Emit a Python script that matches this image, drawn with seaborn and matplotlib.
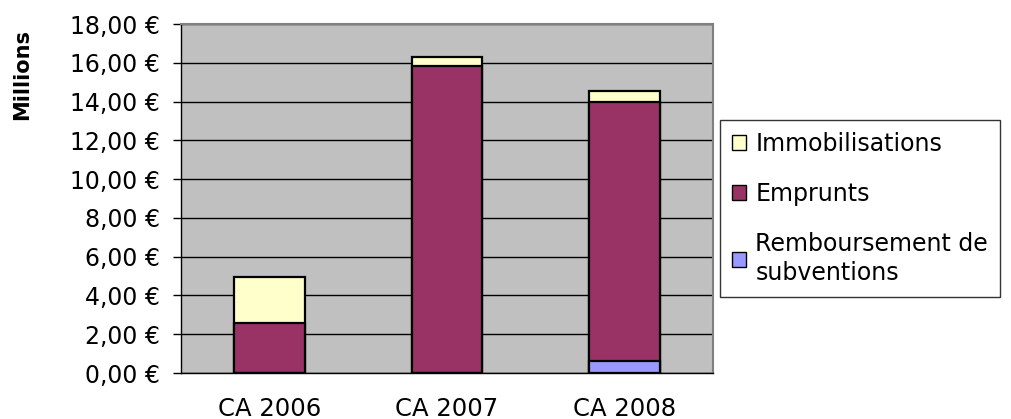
import matplotlib
matplotlib.use("Agg")
import matplotlib.pyplot as plt
import matplotlib.ticker as mticker
from matplotlib.patches import Patch
import seaborn as sns
import pandas as pd

sns.set_style("white")
plt.rcParams['font.family'] = ['DejaVu Sans']
plt.rcParams['text.color'] = 'black'
plt.rcParams['xtick.color'] = 'black'
plt.rcParams['ytick.color'] = 'black'

# donnees (millions d'euros)
annees = ["CA 2006", "CA 2007", "CA 2008"]
remboursement = [0.0, 0.0, 0.63]
emprunts = [2.56, 15.83, 13.35]
immobilisations = [2.38, 0.45, 0.55]
yticks = [0, 2, 4, 6, 8, 10, 12, 14, 16, 18]

c_immo = "#FFFFCC"
c_emp = "#993366"
c_remb = "#9999FF"

df = pd.DataFrame({"annee": annees, "remb": remboursement,
                   "emp": emprunts, "immo": immobilisations})
df["cum_emp"] = df["remb"] + df["emp"]
df["cum_immo"] = df["cum_emp"] + df["immo"]

fig = plt.figure(figsize=(10.11, 4.19), dpi=100)
ax = fig.add_axes([181 / 1011, 1 - 373 / 419, 532 / 1011, 349 / 419])
ax.set_facecolor("#C0C0C0")

# barres empilees : on dessine les cumuls du haut vers le bas
for col, c in [("cum_immo", c_immo), ("cum_emp", c_emp), ("remb", c_remb)]:
    sns.barplot(data=df, x="annee", y=col, color=c, width=0.4,
                edgecolor="black", linewidth=1.6, saturation=1, ax=ax, zorder=3)

ax.set_ylim(0, 18)
ax.set_xlim(-0.5, 2.5)
ax.set_yticks(yticks)
ax.yaxis.set_major_formatter(mticker.FuncFormatter(lambda v, p: f"{v:.2f} €".replace(".", ",")))
ax.grid(axis="y", color="black", linewidth=1, zorder=1)
ax.set_axisbelow(True)
ax.set_xlabel("")
ax.set_ylabel("")

ax.set_xticks([0, 1, 2])
ax.set_xticks([-0.5, 0.5, 1.5, 2.5], minor=True)
ax.tick_params(axis="x", which="major", length=0, pad=17, labelsize=17.5)
ax.tick_params(axis="x", which="minor", length=6, width=1, color="black", direction="out")
ax.tick_params(axis="y", length=6, width=1, color="black", direction="out", pad=9, labelsize=17, left=True)

for s in ["left", "bottom"]:
    ax.spines[s].set_color("black")
    ax.spines[s].set_linewidth(1)
for s in ["top", "right"]:
    ax.spines[s].set_color("#808080")
    ax.spines[s].set_linewidth(1.5)

fig.text(22 / 1011, 1 - 74 / 419, "Millions", rotation=90, fontsize=15,
         fontweight="bold", ha="center", va="center")

handles = [Patch(facecolor=c_immo, edgecolor="black", label="Immobilisations"),
           Patch(facecolor=c_emp, edgecolor="black", label="Emprunts"),
           Patch(facecolor=c_remb, edgecolor="black", label="Remboursement de\nsubventions")]
leg = fig.legend(handles=handles, loc="upper left", bbox_to_anchor=(720 / 1011, 1 - 120 / 419),
                 fontsize=17, frameon=True, fancybox=False, edgecolor="black",
                 handlelength=0.6, handleheight=0.6, handletextpad=0.4,
                 labelspacing=1.1, borderpad=0.5, borderaxespad=0)
leg.get_frame().set_linewidth(1)
for t in leg.get_texts():
    t.set_linespacing(1.3)

fig.savefig("out.png", dpi=100)
